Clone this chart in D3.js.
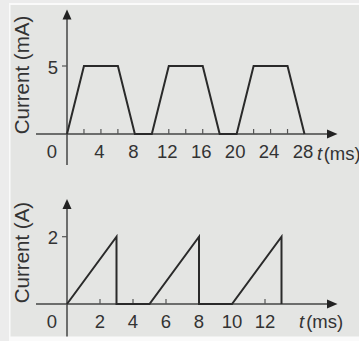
<!DOCTYPE html>
<html>
<head>
<meta charset="utf-8">
<script src="https://cdn.jsdelivr.net/npm/d3@7"></script>
<style>
	body { margin: 0; background: #fff; }
	svg { display: block; }
	text { font-family: "Liberation Sans", Arial, sans-serif; fill: #333; }
</style>
</head>
<body>
<svg id="chart" width="359" height="341"></svg>
<script>
// top panel: trapezoid current (mA)
const timeTop = [0, 2, 6, 8, 10, 12, 16, 18, 20, 22, 26, 28];
const currentTop = [0, 5, 5, 0, 0, 5, 5, 0, 0, 5, 5, 0];
const minorTicksTop = [2, 4, 6, 12, 14, 16, 22, 24, 26];
const tickLabelsTop = [0, 4, 8, 12, 16, 20, 24, 28];
const yTicksTop = [5];

// bottom panel: sawtooth current (A)
const timeBottom = [0, 3, 3, 5, 8, 8, 10, 13, 13];
const currentBottom = [0, 2, 0, 0, 2, 0, 0, 2, 0];
const minorTicksBottom = [2, 4, 6, 12];
const tickLabelsBottom = [0, 2, 4, 6, 8, 10, 12];
const yTicksBottom = [2];

const svg = d3.select("svg#chart");

// frame
svg.append("rect").attr("width", 359).attr("height", 341).attr("fill", "#ececec");
svg.append("rect").attr("x", 9).attr("y", 3).attr("width", 350).attr("height", 338).attr("fill", "#fafafa");
svg.append("rect").attr("x", 10.5).attr("y", 5).attr("width", 349).attr("height", 331.5).attr("fill", "#e4e5e3");

function drawPanel(p) {
	const g = svg.append("g");
	const x = d3.scaleLinear().domain(p.xDomain).range(p.xRange);
	const y = d3.scaleLinear().domain(p.yDomain).range(p.yRange);
	const x0 = x(0);
	const y0 = y(0);

	// axes
	g.append("line")
		.attr("x1", 36).attr("x2", 328)
		.attr("y1", y0).attr("y2", y0)
		.style("stroke", "#444").style("stroke-width", 1.5);
	g.append("line")
		.attr("x1", x0).attr("x2", x0)
		.attr("y1", p.axisBottom).attr("y2", p.arrowTop + 8)
		.style("stroke", "#444").style("stroke-width", 1.5);

	// arrow heads
	g.append("path")
		.attr("d", `M${x0},${p.arrowTop} L${x0 - 4.5},${p.arrowTop + 10} L${x0 + 4.5},${p.arrowTop + 10} Z`)
		.attr("fill", "#222");
	g.append("path")
		.attr("d", `M337.5,${y0} L327,${y0 - 4.5} L327,${y0 + 4.5} Z`)
		.attr("fill", "#222");

	// small ticks above the time axis
	g.selectAll(".mt").data(p.minorTicks).enter().append("line")
		.attr("x1", (d) => x(d)).attr("x2", (d) => x(d))
		.attr("y1", y0).attr("y2", y0 - 5)
		.style("stroke", "#555").style("stroke-width", 1.2);

	// y ticks
	g.selectAll(".yt").data(p.yTicks).enter().append("line")
		.attr("x1", x0 - 5).attr("x2", x0)
		.attr("y1", (d) => y(d)).attr("y2", (d) => y(d))
		.style("stroke", "#555").style("stroke-width", 1.2);
	g.selectAll(".ytl").data(p.yTicks).enter().append("text")
		.attr("x", 53)
		.attr("y", (d) => y(d) + 7.5)
		.attr("text-anchor", "middle")
		.style("font-size", "18.5px")
		.text((d) => d);

	// x tick labels
	g.selectAll(".xtl").data(p.tickLabels).enter().append("text")
		.attr("x", (d) => (d === 0 ? x0 - 15 : x(d) + p.labelShift))
		.attr("y", y0 + 23.5)
		.attr("text-anchor", "middle")
		.style("font-size", "18.5px")
		.text((d) => d);

	// t (ms)
	const t = g.append("text")
		.attr("x", p.tLabelX)
		.attr("y", p.tLabelY)
		.style("font-size", "18.5px");
	t.append("tspan").style("font-style", "italic").text("t");
	t.append("tspan").attr("dx", p.tGap).text("(ms)");

	// y label
	g.append("text")
		.attr("transform", `translate(28.5,${p.yLabelY}) rotate(-90)`)
		.attr("text-anchor", "middle")
		.style("font-size", "20.5px")
		.text(p.yLabel);

	// current trace
	const line = d3.line()
		.x((d) => x(d[0]))
		.y((d) => y(d[1]));
	g.append("path")
		.datum(d3.zip(p.time, p.current))
		.attr("d", line)
		.attr("fill", "none")
		.style("stroke", "#2a2a2a")
		.style("stroke-width", 2)
		.style("stroke-linejoin", "miter");
}

drawPanel({
	time: timeTop, current: currentTop,
	minorTicks: minorTicksTop, tickLabels: tickLabelsTop, yTicks: yTicksTop,
	xDomain: [0, 28], xRange: [67, 304.5],
	yDomain: [0, 5], yRange: [134, 66],
	arrowTop: 9.5, axisBottom: 165,
	labelShift: -1.5,
	tLabelX: 317, tLabelY: 159.5, tGap: 1.5,
	yLabel: "Current (mA)", yLabelY: 75
});

drawPanel({
	time: timeBottom, current: currentBottom,
	minorTicks: minorTicksBottom, tickLabels: tickLabelsBottom, yTicks: yTicksBottom,
	xDomain: [0, 13], xRange: [67, 281.5],
	yDomain: [0, 2], yRange: [304, 236.7],
	arrowTop: 199, axisBottom: 336.5,
	labelShift: 0,
	tLabelX: 299, tLabelY: 328, tGap: 2,
	yLabel: "Current (A)", yLabelY: 252.5
});
</script>
</body>
</html>
